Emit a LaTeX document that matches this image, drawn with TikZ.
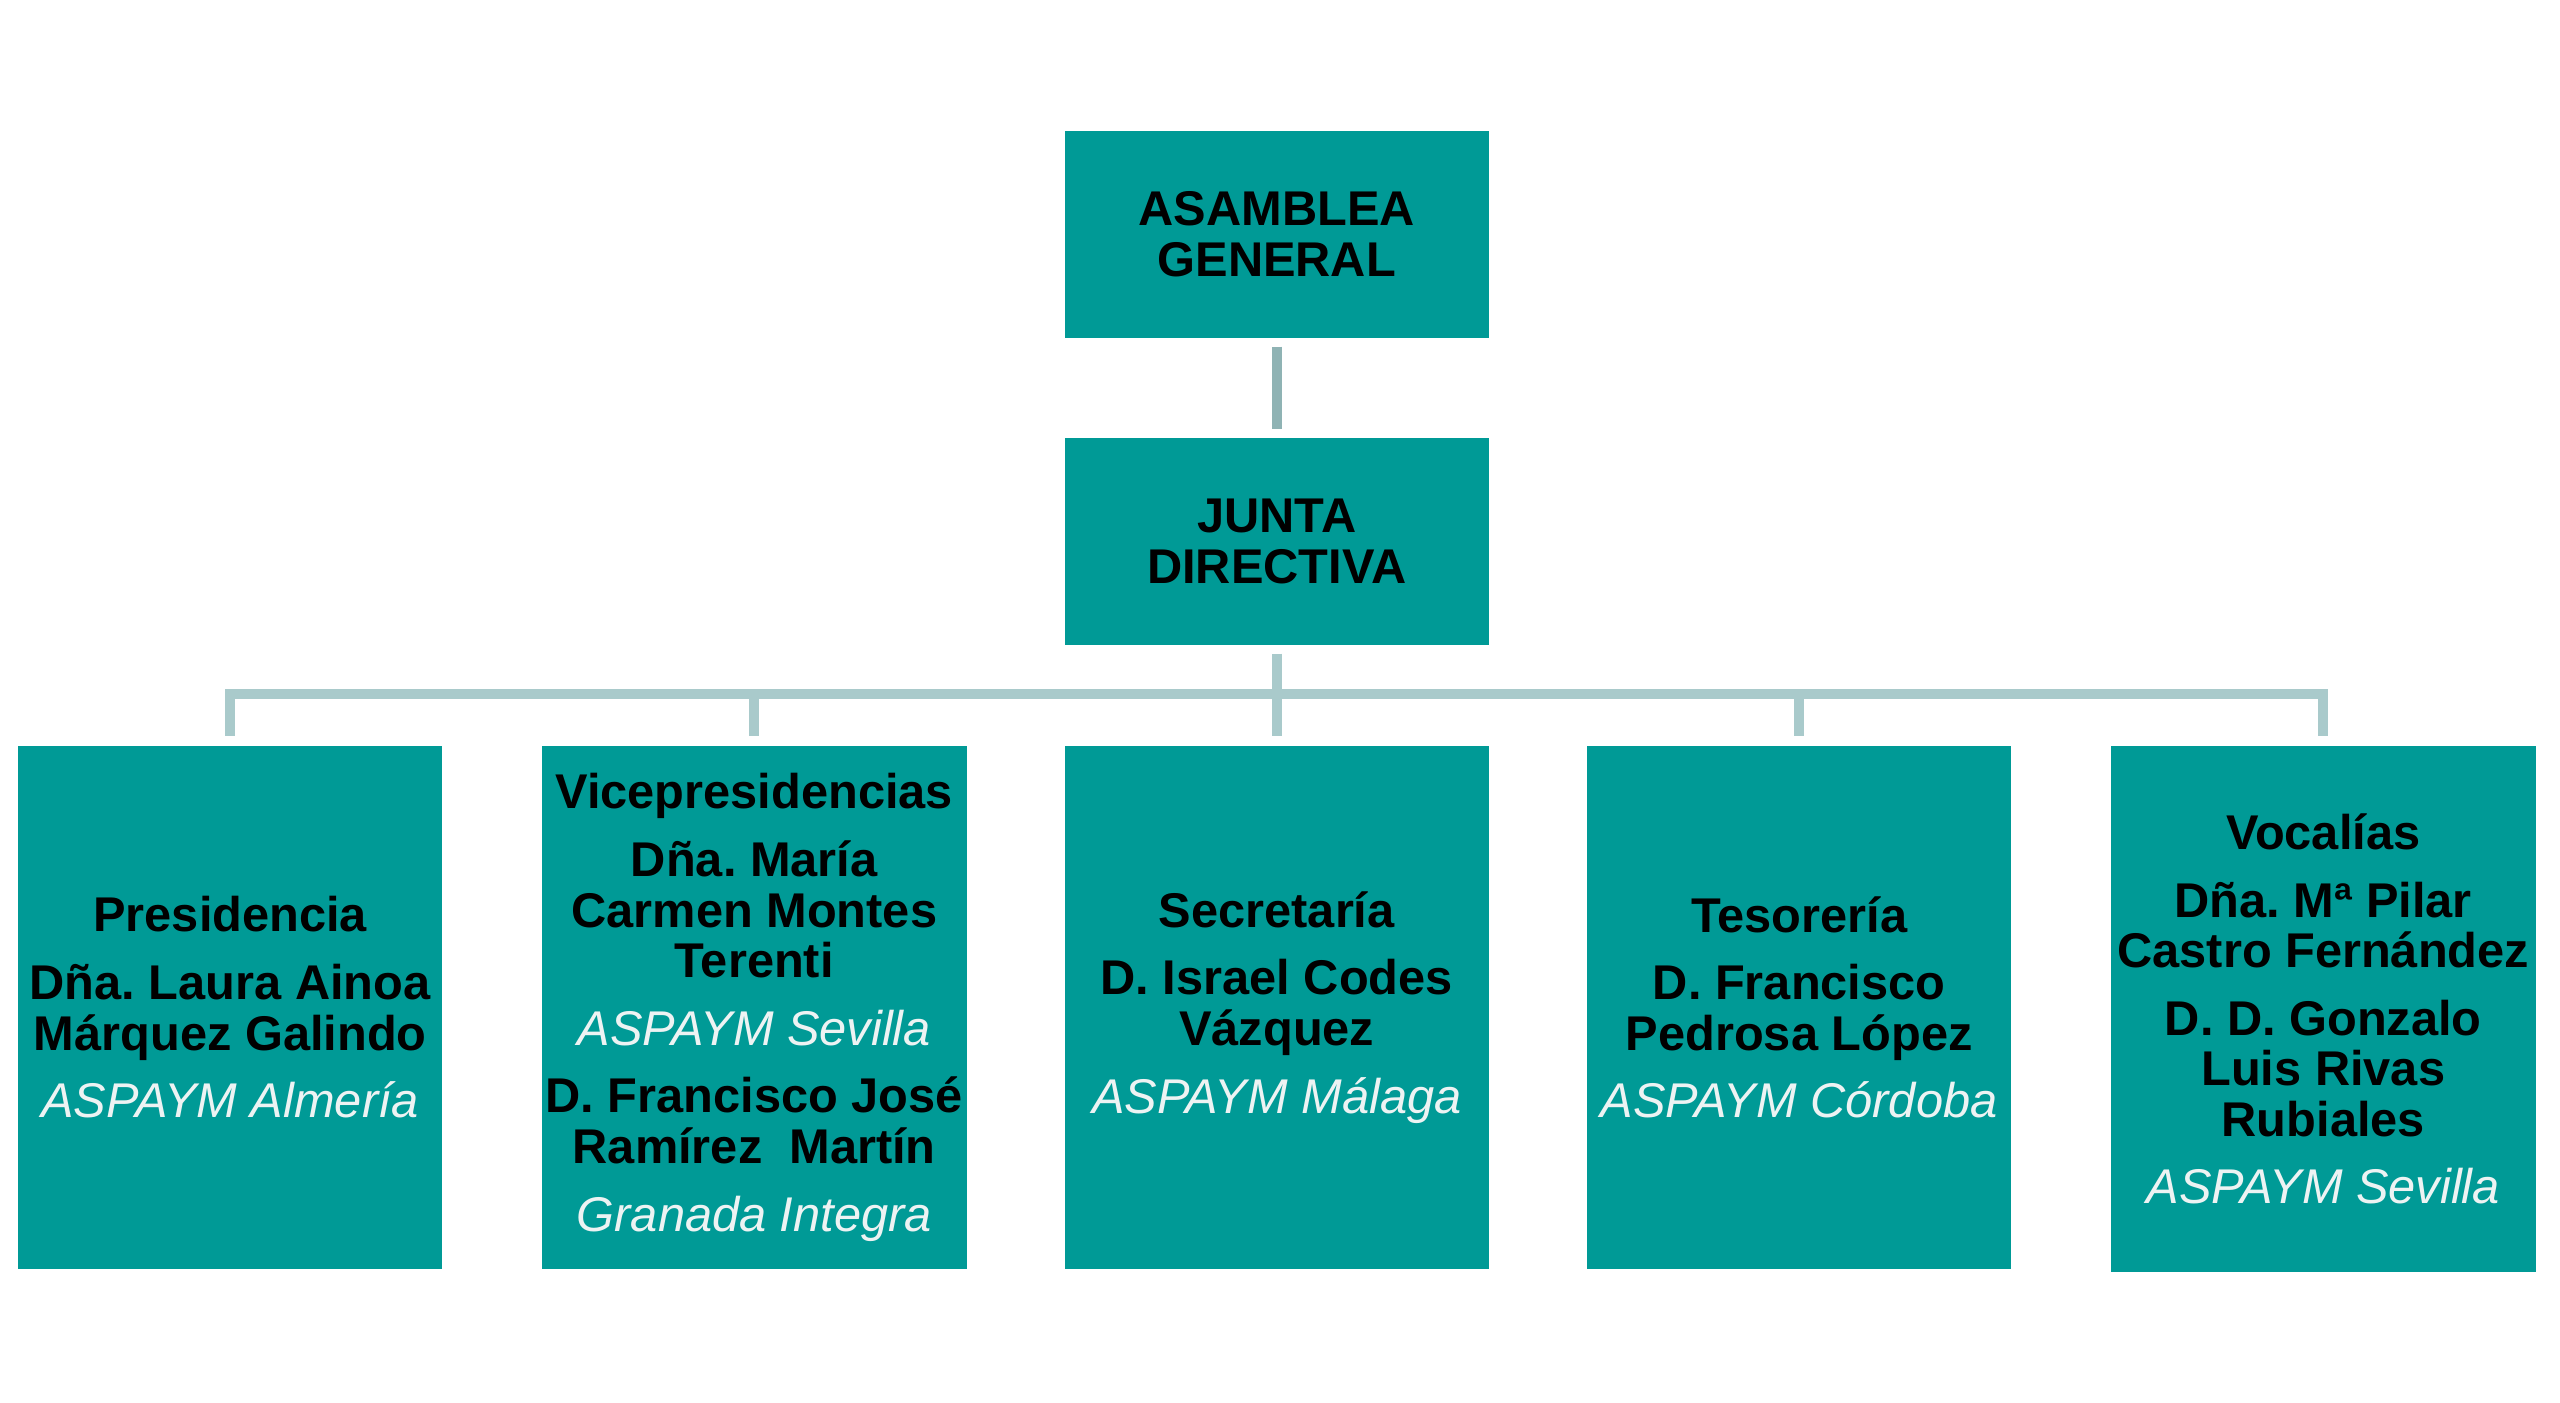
\documentclass[tikz,border=0pt]{standalone}
\usepackage{fontspec}
\setmainfont{Liberation Sans}
\usetikzlibrary{positioning}
\definecolor{boxteal}{HTML}{009A96}
\definecolor{linkgrey}{HTML}{A9CACB}
\definecolor{linkdark}{HTML}{8FB3B4}
\definecolor{orgtxt}{HTML}{EDF3F3}
\tikzset{
  orgbox/.style={fill=boxteal, minimum width=5.2cm, align=center, inner sep=0pt,
    font=\fontsize{17}{17.6}\selectfont\bfseries},
  headbox/.style={orgbox, minimum height=2.54cm},
  unitbox/.style={orgbox, minimum height=6.4cm},
  link/.style={linkgrey, line width=3.5pt},
}
\newcommand\org[1]{\textcolor{orgtxt}{\mdseries\itshape #1}}
\frenchspacing
\begin{document}
\begin{tikzpicture}[x=0.02cm, y=-0.02cm]
  \useasboundingbox (0,0) rectangle (1568,859);

  \node[headbox] (asamblea) at (782,143.5) {ASAMBLEA\\GENERAL};
  \node[headbox] (junta) at (782,331.5) {JUNTA\\DIRECTIVA};

  \node[unitbox] (pres) at (141,617) {Presidencia\\[6pt]
    Dña. Laura Ainoa\\Márquez Galindo\\[6pt]\org{ASPAYM Almería}};
  \node[unitbox] (vice) at (462,617) {Vicepresidencias\\[6pt]
    Dña. María\\Carmen Montes\\Terenti\\[6pt]\org{ASPAYM Sevilla}\\[6pt]
    D. Francisco José\\Ramírez\ \ Martín\\[6pt]\org{Granada Integra}};
  \node[unitbox] (secr) at (782,617) {Secretaría\\[6pt]
    D. Israel Codes\\Vázquez\\[6pt]\org{ASPAYM Málaga}};
  \node[unitbox] (teso) at (1102,617) {Tesorería\\[6pt]
    D. Francisco\\Pedrosa López\\[6pt]\org{ASPAYM Córdoba}};
  \node[unitbox, minimum height=6.44cm] (voca) at (1423,618) {Vocalías\\[6pt]
    Dña. Mª Pilar\\Castro Fernández\\[6pt]
    D. D. Gonzalo\\Luis Rivas\\Rubiales\\[6pt]\org{ASPAYM Sevilla}};

  % connectors
  \draw[link, linkdark] ([yshift=-0.1cm]asamblea.south) -- ([yshift=0.1cm]junta.north);
  \coordinate (bus) at (782,425);
  \draw[link] ([yshift=-0.1cm]junta.south) -- (bus);
  \draw[link] ([yshift=0.12cm]pres.north) |- (bus) -| ([yshift=0.12cm]voca.north);
  \foreach \n in {vice,secr,teso}
    \draw[link] ([yshift=0.12cm]\n.north) -- (\n.north |- bus);
\end{tikzpicture}
\end{document}
